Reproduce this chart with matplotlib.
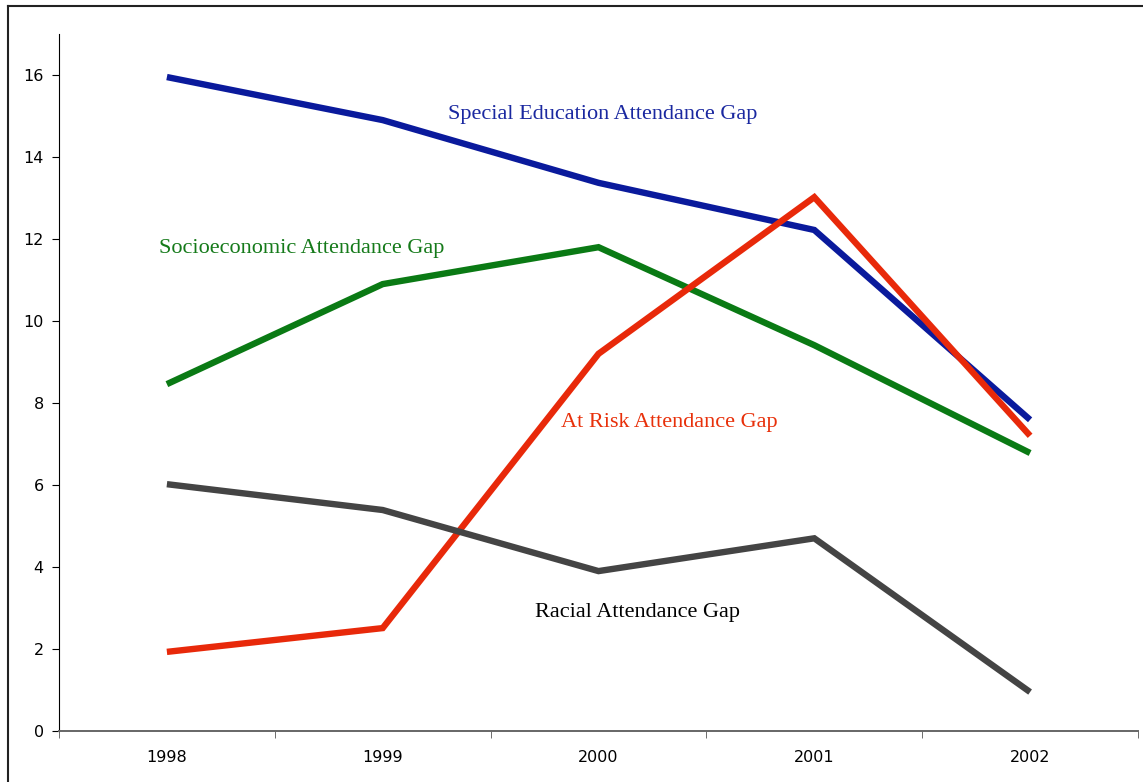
import matplotlib
matplotlib.use("Agg")
import matplotlib.pyplot as plt
from matplotlib.lines import Line2D
import numpy as np

years = ["1998", "1999", "2000", "2001", "2002"]
special_ed = [15.95, 14.9, 13.37, 12.22, 7.59]
socioeconomic = [8.46, 10.9, 11.8, 9.41, 6.78]
at_risk = [1.93, 2.51, 9.2, 13.02, 7.2]
racial = [6.02, 5.39, 3.9, 4.7, 0.95]
yticks = [0, 2, 4, 6, 8, 10, 12, 14, 16]

fig = plt.figure(figsize=(11.43, 7.82), dpi=100)
ax = fig.add_axes([59/1143, 1-731/782, (1138-59)/1143, (731-34)/782])

x = np.arange(len(years))
series = [
    (special_ed, "#0a1a9c"),
    (socioeconomic, "#0a7a14"),
    (at_risk, "#e8290a"),
    (racial, "#444444"),
]
for vals, c in series:
    ax.plot(x, vals, color=c, lw=4.6, solid_joinstyle="miter", solid_capstyle="butt")

ax.set_xlim(-0.5, len(years) - 0.5)
ax.set_ylim(0, 17)
ax.set_yticks(yticks)
ax.set_yticklabels([str(v) for v in yticks])
ax.set_xticks(x)
ax.set_xticklabels(years)
ax.set_xticks(np.arange(-0.5, len(years)), minor=True)
ax.tick_params(axis="x", which="major", length=0, pad=14, labelsize=11.5)
ax.tick_params(axis="x", which="minor", length=5, direction="out", color="#555555")
ax.tick_params(axis="y", length=5, direction="out", pad=6, labelsize=11.5)
for s in ["top", "right"]:
    ax.spines[s].set_visible(False)
ax.spines["left"].set_color("black")
ax.spines["bottom"].set_color("#666666")
ax.spines["bottom"].set_linewidth(1.4)

serif = "Liberation Serif"
fs = 16
ax.text(2.02, 15.03, "Special Education Attendance Gap", color="#1a28a0", fontsize=fs, family=serif, ha="center", va="center")
ax.text(0.625, 11.78, "Socioeconomic Attendance Gap", color="#157a1a", fontsize=fs, family=serif, ha="center", va="center")
ax.text(2.326, 7.53, "At Risk Attendance Gap", color="#e8300a", fontsize=fs, family=serif, ha="center", va="center")
ax.text(2.18, 2.9, "Racial Attendance Gap", color="black", fontsize=fs, family=serif, ha="center", va="center")

# outer frame (top and left visible)
fig.add_artist(Line2D([8/1143, 1.0], [1-6/782, 1-6/782], transform=fig.transFigure, color="#222222", lw=1.5))
fig.add_artist(Line2D([8/1143, 8/1143], [0, 1-6/782], transform=fig.transFigure, color="#222222", lw=1.5))

fig.savefig("out.png", dpi=100)
